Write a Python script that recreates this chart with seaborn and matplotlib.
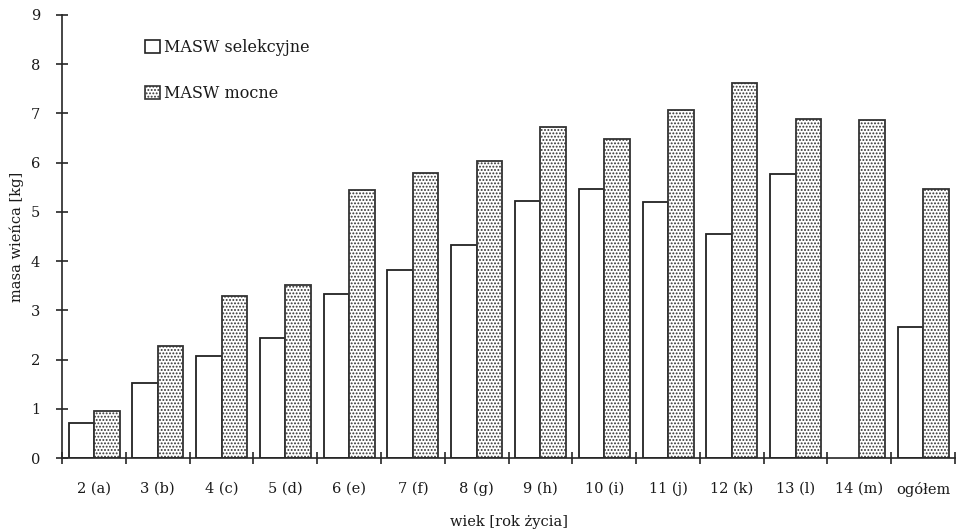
import pandas as pd
import numpy as np
import seaborn as sns
import matplotlib.pyplot as plt
from matplotlib.patches import Patch

# Data
kategorie = ['2 (a)', '3 (b)', '4 (c)', '5 (d)', '6 (e)', '7 (f)', '8 (g)',
             '9 (h)', '10 (i)', '11 (j)', '12 (k)', '13 (l)', '14 (m)', 'ogółem']
selekcyjne = [0.71, 1.52, 2.07, 2.44, 3.33, 3.82, 4.32, 5.22, 5.46, 5.20, 4.56, 5.77, 0.0, 2.67]
mocne = [0.95, 2.27, 3.29, 3.51, 5.44, 5.79, 6.03, 6.72, 6.48, 7.06, 7.62, 6.89, 6.86, 5.46]
serie = ['MASW selekcyjne', 'MASW mocne']

df = pd.DataFrame({
    'wiek': kategorie * 2,
    'masa': selekcyjne + mocne,
    'seria': [serie[0]] * len(kategorie) + [serie[1]] * len(kategorie),
})

sns.set_style('ticks')
plt.rcParams['font.family'] = ['DejaVu Serif']
plt.rcParams['text.color'] = '#1a1a1a'
plt.rcParams['axes.labelcolor'] = '#1a1a1a'
plt.rcParams['xtick.labelcolor'] = '#1a1a1a'
plt.rcParams['ytick.labelcolor'] = '#1a1a1a'
plt.rcParams['hatch.linewidth'] = 0.9

fig = plt.figure(figsize=(9.56, 5.32), dpi=100)
ax = fig.add_axes([0.065, 0.139, 0.934, 0.833])

sns.barplot(data=df, x='wiek', y='masa', hue='seria', order=kategorie, hue_order=serie,
            palette=['white', 'white'], edgecolor='#222222', linewidth=1.3,
            width=0.8, gap=0, legend=False, ax=ax)

# stippled fill for the second series
n = len(kategorie)
for i, p in enumerate(ax.patches):
    if i >= n:
        p.set_hatch('.....')
        p.set_edgecolor('#333333')
    if i < n and selekcyjne[i] == 0:
        p.set_visible(False)

ax.set_xlim(-0.5, n - 0.5)
ax.set_ylim(0, 9)
ax.set_yticks(range(0, 10))
ax.tick_params(axis='y', direction='inout', length=8, width=1.2, labelsize=10.5, pad=12)
ax.tick_params(axis='x', which='major', length=0, labelsize=10.5, pad=17)
ax.set_xticks(np.arange(-0.5, n, 1), minor=True)
ax.tick_params(axis='x', which='minor', direction='inout', length=9, width=1.2)

for s in ['top', 'right']:
    ax.spines[s].set_visible(False)
for s in ['left', 'bottom']:
    ax.spines[s].set_linewidth(1.2)

ax.set_xlabel('wiek [rok życia]', fontsize=10.5, labelpad=13)
ax.set_ylabel('masa wieńca [kg]', fontsize=10.5, labelpad=5)

uchwyty = [Patch(facecolor='white', edgecolor='#222222', linewidth=1.2, label=serie[0]),
           Patch(facecolor='white', edgecolor='#333333', hatch='.....', linewidth=1.2, label=serie[1])]
ax.legend(handles=uchwyty, loc='upper left', bbox_to_anchor=(0.077, 0.978), frameon=False,
          fontsize=11.5, handlelength=0.9, handleheight=0.9, handletextpad=0.25, labelspacing=1.8)

fig.savefig('out.png', dpi=100)
